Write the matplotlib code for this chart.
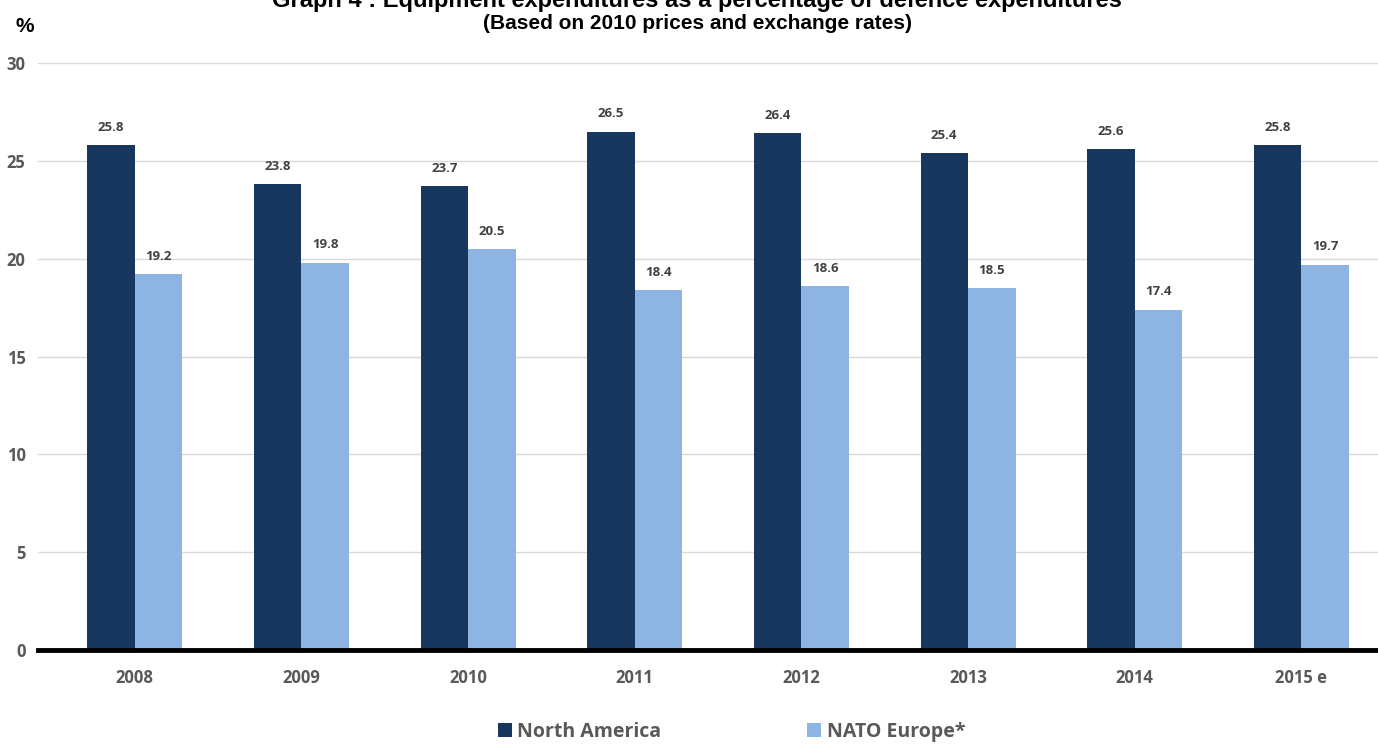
import matplotlib.pyplot as plt
import numpy as np

years = ['2008', '2009', '2010', '2011', '2012', '2013', '2014', '2015 e']
north_america = [25.8, 23.8, 23.7, 26.5, 26.4, 25.4, 25.6, 25.8]
nato_europe = [19.2, 19.8, 20.5, 18.4, 18.6, 18.5, 17.4, 19.7]

dark = '#18375e'
light = '#8eb4e3'
grey = '#595959'
ff = 'Open Sans'

fig = plt.figure(figsize=(13.78, 7.44), dpi=100)
ax = fig.add_axes([0.0276, 0.1263, 0.9724, 0.789])

x = np.arange(len(years))
w = 0.285
b1 = ax.bar(x - w / 2, north_america, w, color=dark, label='North America', zorder=3)
b2 = ax.bar(x + w / 2, nato_europe, w, color=light, label='NATO Europe*', zorder=3)

# value labels above each bar
for bars, vals in ((b1, north_america), (b2, nato_europe)):
    for r, v in zip(bars, vals):
        ax.annotate(f'{v:.1f}', (r.get_x() + r.get_width() / 2, v), xytext=(0, 8),
                    textcoords='offset points', ha='center', va='bottom',
                    fontsize=9.5, fontweight='bold', color='#404040', family=ff)

ax.set_ylim(0, 30)
ax.set_xlim(-0.58, 7.46)
ax.set_yticks(range(0, 31, 5))
ax.yaxis.grid(True, color='#d9d9d9', linewidth=1, zorder=0)
ax.set_axisbelow(True)
for s in ['top', 'right', 'left']:
    ax.spines[s].set_visible(False)
ax.spines['bottom'].set_linewidth(3.5)
ax.spines['bottom'].set_color('black')
ax.spines['bottom'].set_zorder(4)
ax.tick_params(axis='both', length=0)
ax.tick_params(axis='y', pad=9)
ax.tick_params(axis='x', pad=14)
ax.set_xticks(x)
ax.set_xticklabels(years)
for lab in ax.get_xticklabels() + ax.get_yticklabels():
    lab.set_fontfamily(ff)
    lab.set_fontweight('bold')
    lab.set_fontsize(12)
    lab.set_color(grey)

fig.text(0.506, 0.999, 'Graph 4 : Equipment expenditures as a percentage of defence expenditures',
         ha='center', va='center', fontsize=17, fontweight='bold', family='Liberation Sans')
fig.text(0.506, 0.969, '(Based on 2010 prices and exchange rates)',
         ha='center', va='center', fontsize=15, fontweight='bold', family='Liberation Sans')
fig.text(0.011, 0.965, '%', ha='left', va='center', fontsize=15, fontweight='bold',
         family='Liberation Sans')

fig.legend(loc='center', bbox_to_anchor=(0.531, 0.016), ncol=2, frameon=False,
           prop={'family': ff, 'weight': 'bold', 'size': 14},
           labelcolor=grey, handlelength=0.7, handleheight=0.7, handletextpad=0.3,
           columnspacing=7.5)

fig.savefig('out.png', dpi=100)
